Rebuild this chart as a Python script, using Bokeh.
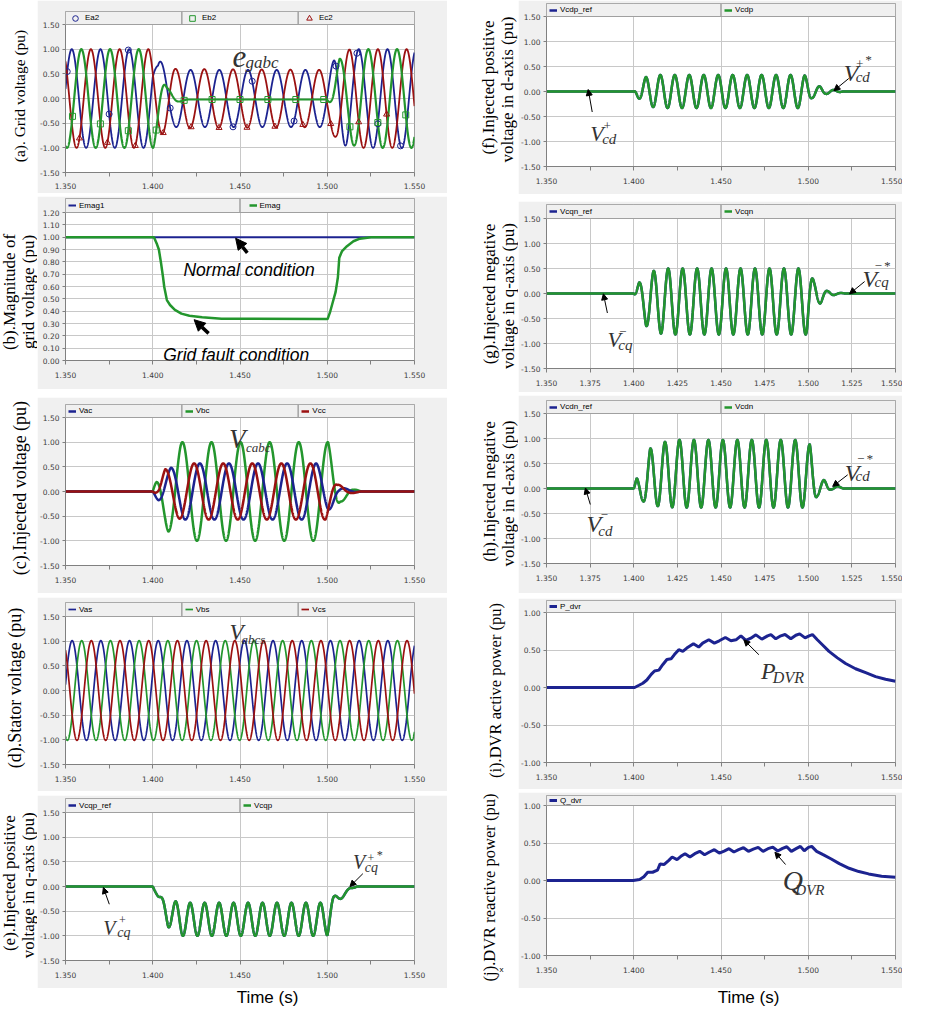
import numpy as np
from bokeh.plotting import figure
from bokeh.models import (Range1d, FixedTicker, PrintfTickFormatter, BoxAnnotation,
                          Legend, LegendItem, Label, Arrow, NormalHead, Spacer)
from bokeh.layouts import row, column
from bokeh.core.properties import value
from bokeh.embed import file_html
from bokeh.resources import INLINE

# ====================================================================== DATA
T0, T1 = 1.35, 1.55
x_ticks = [1.350, 1.400, 1.450, 1.500, 1.550]
x_minor = [1.375, 1.425, 1.475, 1.525]
x_ticks_fine = [1.350, 1.375, 1.400, 1.425, 1.450, 1.475, 1.500, 1.525, 1.550]
y_ticks_15 = [-1.5, -1.0, -0.5, 0.0, 0.5, 1.0, 1.5]
y_ticks_mag = [0.0, 0.1, 0.2, 0.3, 0.4, 0.5, 0.6, 0.7, 0.8, 0.9, 1.0, 1.1, 1.2]
y_ticks_pow = [-1.0, -0.5, 0.0, 0.5, 1.0]

# (a) grid voltage: 60.8 Hz carriers; envelopes (time, amplitude, phase shift)
f_grid = 60.8
ea_peak_t, eb_peak_t, ec_peak_t = 1.3536, 1.35908, 1.36456
ea_env_t = [1.350, 1.400, 1.403, 1.412, 1.500, 1.504, 1.512, 1.550]
ea_env_amp = [1.00, 1.00, 0.78, 0.58, 0.58, 0.78, 1.00, 1.00]
ea_env_shift = [0.0, 0.0, 0.0015, 0.0023, 0.0023, 0.0020, 0.0, 0.0]
eb_env_t = [1.350, 1.4003, 1.4080, 1.4150, 1.4200, 1.5000, 1.5025, 1.5070, 1.5150, 1.5200, 1.550]
eb_env_amp = [1.00, 1.00, 0.22, 0.05, 0.00, 0.00, 0.20, 0.80, 0.95, 1.00, 1.00]
eb_env_off = [0.0, 0.0, 0.0, -0.02, -0.02, -0.02, 0.0, 0.0, 0.0, 0.0, 0.0]
ec_env_t = [1.350, 1.398, 1.405, 1.413, 1.500, 1.506, 1.513, 1.550]
ec_env_amp = [1.00, 1.00, 0.72, 0.60, 0.58, 0.85, 1.00, 1.00]
ec_env_shift = [0.0, 0.0, 0.0, -0.0008, -0.0008, 0.0, 0.0, 0.0]
ea_mark_t = [1.351, 1.375, 1.386, 1.410, 1.446, 1.457, 1.481, 1.505, 1.517, 1.529, 1.542]
eb_mark_t = [1.354, 1.370, 1.386, 1.402, 1.418, 1.434, 1.450, 1.466, 1.482, 1.498, 1.513, 1.529, 1.545]
ec_mark_t = [1.358, 1.374, 1.390, 1.406, 1.422, 1.438, 1.454, 1.470, 1.486, 1.502, 1.518, 1.534]

# (b) grid voltage magnitude
emag1_t = [1.350, 1.550]
emag1_v = [1.00, 1.00]
emag_t = [1.350, 1.4007, 1.4025, 1.4035, 1.4047, 1.4059, 1.4066, 1.4081, 1.4099, 1.4127, 1.4164,
          1.4210, 1.4283, 1.4394, 1.5002, 1.5017, 1.5030, 1.5048, 1.5061, 1.5069, 1.5085, 1.5113,
          1.5150, 1.5187, 1.5251, 1.550]
emag_v = [1.000, 1.000, 0.940, 0.900, 0.795, 0.675, 0.596, 0.490, 0.450, 0.410, 0.380,
          0.363, 0.350, 0.339, 0.336, 0.397, 0.464, 0.556, 0.675, 0.834, 0.887, 0.927,
          0.967, 0.988, 1.000, 1.000]

# (c) injected voltage, 60 Hz
f_inj = 60.0
vac_peak_t, vbc_peak_t, vcc_peak_t = 1.4270, 1.4170, 1.4237
vac_env_t = [1.350, 1.4000, 1.4033, 1.4104, 1.4180, 1.4937, 1.5000, 1.5060, 1.5150, 1.5200, 1.550]
vac_env_amp = [0.0, 0.0, 0.20, 0.48, 0.57, 0.57, 0.45, 0.10, 0.02, 0.0, 0.0]
vbc_env_t = [1.350, 1.4000, 1.4022, 1.4090, 1.4160, 1.5005, 1.5075, 1.5150, 1.5200, 1.550]
vbc_env_amp = [0.0, 0.0, 0.25, 0.82, 1.00, 1.00, 0.22, 0.05, 0.0, 0.0]
vcc_env_t = [1.350, 1.4000, 1.4030, 1.4071, 1.4151, 1.4237, 1.4990, 1.5057, 1.5120, 1.5200, 1.550]
vcc_env_amp = [0.0, 0.0, 0.10, 0.45, 0.55, 0.57, 0.57, 0.15, 0.05, 0.0, 0.0]

# (d) stator voltage
f_stator = 60.8
vas_peak_t, vbs_peak_t, vcs_peak_t = 1.3538, 1.3593, 1.3648
vs_env_t = [1.350, 1.550]
vs_env_amp = [1.01, 1.01]

# (e)-(h) dq components, double-frequency ripple
f_dq = 120.6
vcqp_peak_t = 1.42145
vcqp_env_t = [1.350, 1.400, 1.403, 1.4089, 1.4131, 1.417, 1.500, 1.5035, 1.508, 1.513, 1.517, 1.550]
vcqp_env_off = [0.0, 0.0, -0.20, -0.56, -0.62, -0.665, -0.665, -0.30, -0.20, -0.05, 0.0, 0.0]
vcqp_env_amp = [0.0, 0.0, 0.02, 0.26, 0.32, 0.335, 0.335, 0.10, 0.05, 0.02, 0.0, 0.0]

vcdp_peak_t = 1.4484
vcdp_env_t = [1.350, 1.400, 1.4024, 1.4070, 1.4150, 1.4978, 1.5021, 1.5069, 1.5101, 1.5150, 1.5200, 1.550]
vcdp_env_amp = [0.0, 0.0, 0.12, 0.29, 0.33, 0.33, 0.13, 0.10, 0.05, 0.03, 0.0, 0.0]

vcqn_peak_t = 1.4529
vcqn_env_t = [1.350, 1.400, 1.4031, 1.4071, 1.4113, 1.4155, 1.4193, 1.4993, 1.5033, 1.5070, 1.5110,
              1.5160, 1.5220, 1.550]
vcqn_env_off = [0.0, 0.0, 0.00, -0.20, -0.12, -0.15, -0.16, -0.16, 0.03, -0.05, -0.01, 0.0, 0.0, 0.0]
vcqn_env_amp = [0.0, 0.0, 0.22, 0.45, 0.57, 0.65, 0.66, 0.66, 0.22, 0.15, 0.06, 0.02, 0.0, 0.0]

vcdn_peak_t = 1.4262
vcdn_env_t = [1.350, 1.400, 1.4018, 1.4052, 1.4094, 1.4134, 1.4176, 1.4262, 1.4925, 1.5009, 1.5052,
              1.5090, 1.5129, 1.5167, 1.5210, 1.550]
vcdn_env_off = [0.0, 0.0, 0.00, -0.01, 0.22, 0.22, 0.28, 0.295, 0.295, 0.25, 0.02, 0.02, 0.02, 0.02, 0.0, 0.0]
vcdn_env_amp = [0.0, 0.0, 0.22, 0.24, 0.58, 0.57, 0.65, 0.675, 0.675, 0.63, 0.17, 0.15, 0.04, 0.03, 0.0, 0.0]

# (i) DVR active power
p_dvr_t = [1.3500, 1.4005, 1.4030, 1.4052, 1.4075, 1.4100, 1.4119, 1.4144, 1.4167, 1.4190, 1.4214,
           1.4233, 1.4258, 1.4281, 1.4304, 1.4342, 1.4372, 1.4395, 1.4430, 1.4462, 1.4490, 1.4525,
           1.4557, 1.4586, 1.4614, 1.4643, 1.4671, 1.4700, 1.4734, 1.4767, 1.4786, 1.4814, 1.4843,
           1.4867, 1.4900, 1.4929, 1.4951, 1.4982, 1.5005, 1.5024, 1.5052, 1.5081, 1.5119, 1.5167,
           1.5214, 1.5271, 1.5329, 1.5386, 1.5443, 1.5500]
p_dvr_v = [0.000, 0.000, 0.030, 0.057, 0.100, 0.175, 0.220, 0.232, 0.307, 0.373, 0.382,
           0.439, 0.504, 0.482, 0.526, 0.583, 0.539, 0.592, 0.636, 0.592, 0.623, 0.667,
           0.623, 0.636, 0.689, 0.627, 0.658, 0.702, 0.645, 0.689, 0.706, 0.649, 0.689,
           0.706, 0.649, 0.697, 0.715, 0.662, 0.689, 0.706, 0.636, 0.570, 0.482, 0.395,
           0.320, 0.250, 0.197, 0.145, 0.110, 0.083]

# (j) DVR reactive power
q_dvr_t = [1.3500, 1.3997, 1.4034, 1.4058, 1.4080, 1.4108, 1.4136, 1.4151, 1.4173, 1.4201, 1.4220,
           1.4248, 1.4270, 1.4294, 1.4322, 1.4350, 1.4378, 1.4406, 1.4434, 1.4462, 1.4490, 1.4518,
           1.4546, 1.4574, 1.4601, 1.4629, 1.4657, 1.4685, 1.4713, 1.4741, 1.4769, 1.4797, 1.4825,
           1.4853, 1.4877, 1.4903, 1.4933, 1.4955, 1.4977, 1.5001, 1.5020, 1.5048, 1.5085, 1.5132,
           1.5178, 1.5234, 1.5290, 1.5346, 1.5420, 1.5500]
q_dvr_v = [0.000, 0.000, 0.013, 0.049, 0.110, 0.110, 0.137, 0.221, 0.212, 0.269, 0.313,
           0.278, 0.322, 0.358, 0.313, 0.358, 0.389, 0.344, 0.380, 0.411, 0.366, 0.393,
           0.424, 0.380, 0.411, 0.437, 0.389, 0.419, 0.441, 0.389, 0.424, 0.446, 0.393,
           0.428, 0.450, 0.389, 0.428, 0.455, 0.397, 0.442, 0.455, 0.389, 0.344, 0.287,
           0.225, 0.163, 0.119, 0.088, 0.057, 0.044]

# ====================================================================== STYLE
FRAME = "#f0f0f0"
GRID = "#c8c8c8"
EDGE = "#a0a0a0"
BLUE = "#1c2390"
GREEN = "#23962d"
RED = "#9b1111"
TICK_FONT = "DejaVu Sans"
SERIF = "Liberation Serif"
SANS = "Liberation Sans"

t = np.linspace(T0, T1, 4001)


def synth(tt, env_t, env_amp, f, t_pk, env_off=None, env_shift=None):
    tt = np.asarray(tt, dtype=float)
    amp = np.interp(tt, env_t, env_amp)
    off = np.interp(tt, env_t, env_off) if env_off is not None else 0.0
    sh = np.interp(tt, env_t, env_shift) if env_shift is not None else 0.0
    return off + amp * np.cos(2 * np.pi * f * (tt - t_pk - sh))


def make_panel(w, h, left, plot_w, top, strip, plot_h, ylo, yhi, yticks, xticks, xminor, seps,
               xstand=7):
    right = w - left - plot_w
    bottom = h - top - strip - plot_h
    ytop = yhi + strip * (yhi - ylo) / plot_h
    p = figure(width=w, height=h, x_range=Range1d(T0, T1), y_range=Range1d(ylo, ytop),
               output_backend="svg", toolbar_location=None, title=None,
               min_border_left=left, min_border_right=right,
               min_border_top=top, min_border_bottom=bottom)
    p.border_fill_color = FRAME
    p.background_fill_color = "white"
    p.outline_line_color = EDGE
    xt = FixedTicker(ticks=xticks, minor_ticks=xminor)
    yt = FixedTicker(ticks=yticks)
    xa = p.xaxis[0]
    xa.ticker = xt
    xa.formatter = PrintfTickFormatter(format="%.3f")
    ya = p.yaxis[0]
    ya.ticker = yt
    ya.formatter = PrintfTickFormatter(format="%.2f")
    ya.bounds = (ylo, yhi)
    for ax in (xa, ya):
        ax.major_label_text_font = TICK_FONT
        ax.major_label_text_font_size = "7.5px"
        ax.major_label_text_color = "#3c3c3c"
        ax.axis_line_color = "#808080"
        ax.major_tick_line_color = "#808080"
        ax.minor_tick_line_color = "#808080"
        ax.major_tick_in = 0
        ax.minor_tick_in = 0
    xa.major_tick_out = 4
    xa.minor_tick_out = 4
    xa.major_label_standoff = xstand
    ya.major_tick_out = 3
    ya.minor_tick_line_color = None
    ya.major_label_standoff = 3
    p.xgrid.ticker = xt
    p.ygrid.ticker = yt
    p.xgrid.grid_line_color = GRID
    p.ygrid.grid_line_color = GRID
    # legend strip along the top of the plot area
    p.add_layout(BoxAnnotation(bottom=yhi, fill_color=FRAME, fill_alpha=1.0,
                               line_color=EDGE, line_alpha=1.0, line_width=1))
    for frac in seps:
        xs = T0 + frac * (T1 - T0)
        p.add_layout(BoxAnnotation(left=xs, right=xs, bottom=yhi, fill_alpha=0.0,
                                   line_color=EDGE, line_alpha=1.0, line_width=1))
    return p


def add_legend(p, plot_w, plot_h, strip, entries, gw=8, gh=10):
    for lab, rends, frac in entries:
        lg = Legend(items=[LegendItem(label=value(lab), renderers=rends)],
                    location=(frac * plot_w + 3, plot_h + (strip - gh) / 2.0),
                    orientation="horizontal", background_fill_alpha=0.0,
                    border_line_alpha=0.0, padding=0, margin=0, spacing=0,
                    glyph_width=gw, glyph_height=gh, label_height=10, label_standoff=3,
                    label_text_font=SANS, label_text_font_size="8px",
                    label_text_color="black")
        p.add_layout(lg)


def add_text(p, txt, x, y, size, font=SERIF, style="italic", color="#333333",
             baseline="alphabetic", align="left"):
    p.add_layout(Label(x=x, y=y, text=txt, text_font=font, text_font_style=style,
                       text_font_size=f"{size}px", text_color=color,
                       text_baseline=baseline, text_align=align))


def add_arrow(p, xs, ys, xe, ye, lw=1.0, head=6):
    p.add_layout(Arrow(end=NormalHead(size=head, fill_color="black", line_color="black",
                                      line_width=1),
                       x_start=xs, y_start=ys, x_end=xe, y_end=ye,
                       line_color="black", line_width=lw))


def label_fig(w, h, specs, extra=()):
    p = figure(width=w, height=h, x_range=Range1d(0, w), y_range=Range1d(0, h),
               x_axis_type=None, y_axis_type=None, toolbar_location=None,
               output_backend="svg", title=None, min_border=0, min_border_left=0,
               min_border_right=0, min_border_top=0, min_border_bottom=0)
    p.outline_line_color = None
    p.background_fill_color = "white"
    p.border_fill_color = "white"
    for txt, xs, ywin, size in specs:
        p.add_layout(Label(x=xs, y=h - (ywin - 8), x_units="screen", y_units="screen",
                           text=txt, angle=np.pi / 2, text_align="center",
                           text_baseline="middle", text_font=SERIF,
                           text_font_size=f"{size}px", text_color="black"))
    for txt, xs, ys, size, font, ang in extra:
        p.add_layout(Label(x=xs, y=ys, x_units="screen", y_units="screen", text=txt,
                           angle=ang, text_align="center", text_baseline="middle",
                           text_font=font, text_font_size=f"{size}px", text_color="black"))
    return p


WL, WR = 410, 384

# ---------------------------------------------------------------- (a)
pa = make_panel(WL, 193, 27, 351, 11, 13, 148, -1.5, 1.5, y_ticks_15, x_ticks, x_minor, [1/3, 2/3],
                xstand=6)
ea = synth(t, ea_env_t, ea_env_amp, f_grid, ea_peak_t, env_shift=ea_env_shift)
eb = synth(t, eb_env_t, eb_env_amp, f_grid, eb_peak_t, env_off=eb_env_off)
ec = synth(t, ec_env_t, ec_env_amp, f_grid, ec_peak_t, env_shift=ec_env_shift)
pa.line(x=t, y=ea, line_color=BLUE, line_width=1.8)
pa.line(x=t, y=ec, line_color=RED, line_width=1.8)
pa.line(x=t, y=eb, line_color=GREEN, line_width=2.2)
ma = pa.scatter(x=ea_mark_t, y=synth(ea_mark_t, ea_env_t, ea_env_amp, f_grid, ea_peak_t, env_shift=ea_env_shift),
                marker="circle", size=6, fill_color=None, line_color=BLUE, line_width=1)
mb = pa.scatter(x=eb_mark_t, y=synth(eb_mark_t, eb_env_t, eb_env_amp, f_grid, eb_peak_t, env_off=eb_env_off),
                marker="square", size=6, fill_color=None, line_color=GREEN, line_width=1)
mc = pa.scatter(x=ec_mark_t, y=synth(ec_mark_t, ec_env_t, ec_env_amp, f_grid, ec_peak_t, env_shift=ec_env_shift),
                marker="triangle", size=6, fill_color=None, line_color=RED, line_width=1)
add_legend(pa, 351, 148, 13, [("Ea2", [ma], 0), ("Eb2", [mb], 1/3), ("Ec2", [mc], 2/3)], gw=14, gh=14)
add_text(pa, "e", 1.4457, 0.853, 31)
add_text(pa, "gabc", 1.4531, 0.735, 17)

# ---------------------------------------------------------------- (b)
pb = make_panel(WL, 193, 27, 361, 2, 14, 148, 0.0, 1.2, y_ticks_mag, x_ticks, x_minor, [1/2])
rb1 = pb.line(x=emag1_t, y=emag1_v, line_color=BLUE, line_width=2)
rb2 = pb.line(x=emag_t, y=emag_v, line_color=GREEN, line_width=2.5)
add_legend(pb, 361, 148, 14, [("Emag1", [rb1], 0), ("Emag", [rb2], 1/2)])
add_text(pb, "Normal condition", 1.4176, 0.73, 17.5, font=SANS, color="black")
add_text(pb, "Grid fault condition", 1.406, 0.045, 17.5, font=SANS, color="black")
add_arrow(pb, 1.4542, 0.872, 1.4475, 0.991, lw=3.5, head=11)
add_arrow(pb, 1.4320, 0.220, 1.4237, 0.331, lw=3.5, head=11)

# ---------------------------------------------------------------- (c)
pc = make_panel(WL, 196, 27, 350, 7, 13, 148, -1.5, 1.5, y_ticks_15, x_ticks, x_minor, [1/3, 2/3])
vbc = synth(t, vbc_env_t, vbc_env_amp, f_inj, vbc_peak_t)
vac = synth(t, vac_env_t, vac_env_amp, f_inj, vac_peak_t)
vcc = synth(t, vcc_env_t, vcc_env_amp, f_inj, vcc_peak_t)
rcb = pc.line(x=t, y=vbc, line_color=GREEN, line_width=2.5)
rca = pc.line(x=t, y=vac, line_color=BLUE, line_width=2.5)
rcc = pc.line(x=t, y=vcc, line_color=RED, line_width=2.5)
add_legend(pc, 350, 148, 13, [("Vac", [rca], 0), ("Vbc", [rcb], 1/3), ("Vcc", [rcc], 2/3)])
add_text(pc, "V", 1.4437, 1.056, 27)
add_text(pc, "cabc", 1.4534, 0.896, 13)

# ---------------------------------------------------------------- (d)
pd = make_panel(WL, 194, 27, 350, 5, 14, 148, -1.5, 1.5, y_ticks_15, x_ticks, x_minor, [1/3, 2/3])
vas = synth(t, vs_env_t, vs_env_amp, f_stator, vas_peak_t)
vbs = synth(t, vs_env_t, vs_env_amp, f_stator, vbs_peak_t)
vcs = synth(t, vs_env_t, vs_env_amp, f_stator, vcs_peak_t)
rda = pd.line(x=t, y=vas, line_color=BLUE, line_width=1.7)
rdb = pd.line(x=t, y=vbs, line_color=GREEN, line_width=1.7)
rdc = pd.line(x=t, y=vcs, line_color=RED, line_width=1.7)
add_legend(pd, 350, 148, 14, [("Vas", [rda], 0), ("Vbs", [rdb], 1/3), ("Vcs", [rdc], 2/3)])
add_text(pd, "V", 1.444, 1.168, 23)
add_text(pd, "abcs", 1.4509, 1.028, 13)

# ---------------------------------------------------------------- (e)
pe = make_panel(WL, 193, 27, 350, 3, 14, 148, -1.5, 1.5, y_ticks_15, x_ticks, x_minor, [1/2])
vcqp = synth(t, vcqp_env_t, vcqp_env_amp, f_dq, vcqp_peak_t, env_off=vcqp_env_off)
re1 = pe.line(x=t, y=vcqp, line_color=BLUE, line_width=2.5)
re2 = pe.line(x=t, y=vcqp, line_color=GREEN, line_width=2.5)
add_legend(pe, 350, 148, 14, [("Vcqp_ref", [re1], 0), ("Vcqp", [re2], 1/2)])
add_text(pe, "V", 1.5147, 0.50, 20)
add_text(pe, "+", 1.5249, 0.583, 12, align="center")
add_text(pe, "*", 1.5298, 0.63, 12, align="center")
add_text(pe, "cq", 1.5215, 0.38, 14)
add_arrow(pe, 1.5204, 0.26, 1.5130, 0.00)
add_text(pe, "V", 1.3717, -0.84, 20)
add_text(pe, "+", 1.3825, -0.687, 12, align="center")
add_text(pe, "cq", 1.3797, -0.94, 14)
add_arrow(pe, 1.3751, -0.36, 1.3717, -0.02)

# ---------------------------------------------------------------- (f)
pf = make_panel(WR, 194, 27, 350, 3, 13, 150, -1.5, 1.5, y_ticks_15, x_ticks, x_minor, [1/2])
vcdp = synth(t, vcdp_env_t, vcdp_env_amp, f_dq, vcdp_peak_t)
rf1 = pf.line(x=t, y=vcdp, line_color=BLUE, line_width=2.5)
rf2 = pf.line(x=t, y=vcdp, line_color=GREEN, line_width=2.5)
add_legend(pf, 350, 150, 13, [("Vcdp_ref", [rf1], 0), ("Vcdp", [rf2], 1/2)])
add_text(pf, "V", 1.5204, 0.379, 24)
add_text(pf, "+", 1.5295, 0.544, 13, align="center")
add_text(pf, "*", 1.5343, 0.635, 13, align="center")
add_text(pf, "cd", 1.5272, 0.30, 15)
add_arrow(pf, 1.5232, 0.26, 1.5147, 0.017)
add_text(pf, "V", 1.3751, -0.847, 22)
add_text(pf, "+", 1.3848, -0.692, 13, align="center")
add_text(pf, "cd", 1.3819, -0.945, 15)
add_arrow(pf, 1.3762, -0.41, 1.3739, 0.04)

# ---------------------------------------------------------------- (g)
pg = make_panel(WR, 191, 27, 350, 3, 14, 150, -1.5, 1.5, y_ticks_15, x_ticks_fine, [], [1/2])
vcqn = synth(t, vcqn_env_t, vcqn_env_amp, f_dq, vcqn_peak_t, env_off=vcqn_env_off)
rg1 = pg.line(x=t, y=vcqn, line_color=BLUE, line_width=2.5)
rg2 = pg.line(x=t, y=vcqn, line_color=GREEN, line_width=2.5)
add_legend(pg, 350, 150, 14, [("Vcqn_ref", [rg1], 0), ("Vcqn", [rg2], 1/2)])
add_text(pg, "V", 1.5311, 0.299, 24)
add_text(pg, "\u2212", 1.5400, 0.543, 13, align="center")
add_text(pg, "*", 1.5450, 0.56, 13, align="center")
add_text(pg, "cq", 1.5380, 0.24, 15)
add_arrow(pg, 1.5323, 0.239, 1.5237, -0.006)
add_text(pg, "V", 1.3849, -0.916, 22)
add_text(pg, "\u2212", 1.3937, -0.768, 13, align="center")
add_text(pg, "cq", 1.3911, -1.02, 15)
add_arrow(pg, 1.3849, -0.39, 1.3826, -0.006)

# ---------------------------------------------------------------- (h)
ph = make_panel(WR, 198, 27, 350, 5, 13, 150, -1.5, 1.5, y_ticks_15, x_ticks_fine, [], [1/2])
vcdn = synth(t, vcdn_env_t, vcdn_env_amp, f_dq, vcdn_peak_t, env_off=vcdn_env_off)
rh1 = ph.line(x=t, y=vcdn, line_color=BLUE, line_width=2.5)
rh2 = ph.line(x=t, y=vcdn, line_color=GREEN, line_width=2.5)
add_legend(ph, 350, 150, 13, [("Vcdn_ref", [rh1], 0), ("Vcdn", [rh2], 1/2)])
add_text(ph, "V", 1.5209, 0.314, 24)
add_text(ph, "\u2212", 1.5300, 0.587, 13, align="center")
add_text(ph, "*", 1.5350, 0.60, 13, align="center")
add_text(ph, "cd", 1.5271, 0.254, 15)
add_arrow(ph, 1.5226, 0.274, 1.5140, 0.042)
add_text(ph, "V", 1.3729, -0.719, 24)
add_text(ph, "\u2212", 1.3831, -0.52, 13, align="center")
add_text(ph, "cd", 1.3797, -0.845, 15)
add_arrow(ph, 1.3751, -0.32, 1.3723, 0.01)

# ---------------------------------------------------------------- (i)
pi = make_panel(WR, 191, 27, 350, 2, 12, 150, -1.0, 1.0, y_ticks_pow, x_ticks, x_minor, [])
ri = pi.line(x=p_dvr_t, y=p_dvr_v, line_color=BLUE, line_width=3)
add_legend(pi, 350, 150, 12, [("P_dvr", [ri], 0)])
add_text(pi, "P", 1.4729, 0.222, 24)
add_text(pi, "DVR", 1.4797, 0.13, 16)
add_arrow(pi, 1.4717, 0.437, 1.4631, 0.635)

# ---------------------------------------------------------------- (j)
pj = make_panel(WR, 196, 27, 352, 3, 10, 150, -1.0, 1.0, y_ticks_pow, x_ticks, x_minor, [])
rj = pj.line(x=q_dvr_t, y=q_dvr_v, line_color=BLUE, line_width=3)
add_legend(pj, 352, 150, 10, [("Q_dvr", [rj], 0)], gh=10)
add_text(pj, "Q", 1.4854, 0.0, 28)
add_text(pj, "DVR", 1.4926, -0.12, 15)
add_arrow(pj, 1.4870, 0.213, 1.4809, 0.377)

# ---------------------------------------------------------------- labels & layout
H = 1006
labL = label_fig(37, H, [
    ("(a). Grid voltage (pu)", 19, 103.5, 15.5),
    ("(b).Magnitude of", 9, 299.5, 17),
    ("grid voltage (pu)", 28, 299.5, 17),
    ("(c).Injected voltage (pu)", 19, 495.6, 18),
    ("(d).Stator voltage (pu)", 14, 695.5, 18),
    ("(e).Injected positive", 9, 890.6, 17),
    ("voltage in q-axis  (pu)", 28, 890.6, 17),
])
labR = label_fig(71, H, [
    ("(f).Injected positive", 41, 95, 17),
    ("voltage in d-axis  (pu)", 60, 95, 17),
    ("(g).Injected negative", 42, 301.5, 17),
    ("voltage in q-axis  (pu)", 61, 301.5, 17),
    ("(h).Injected negative", 42, 499, 17),
    ("voltage in d-axis  (pu)", 61, 499, 17),
    ("(i).DVR active power (pu)", 48, 698, 16.5),
    ("(j).DVR reactive power (pu)", 42, 895, 16.5),
], extra=[("x", 54, 37, 8, SANS, 0.0)])

timeL = label_fig(WL, 18, [], extra=[("Time (s)", 202, 9, 17, SANS, 0.0)])
timeR = label_fig(WR, 18, [], extra=[("Time (s)", 202, 9, 17, SANS, 0.0)])

colL = column(pa, Spacer(width=WL, height=3), pb, Spacer(width=WL, height=8), pc,
              Spacer(width=WL, height=4), pd, Spacer(width=WL, height=4), pe, timeL)
colR = column(pf, Spacer(width=WR, height=7), pg, Spacer(width=WR, height=3), ph,
              Spacer(width=WR, height=5), pi, Spacer(width=WR, height=3), pj, timeR)
root = row(labL, colL, labR, colR)

open("out.html", "w").write(file_html(root, INLINE))
